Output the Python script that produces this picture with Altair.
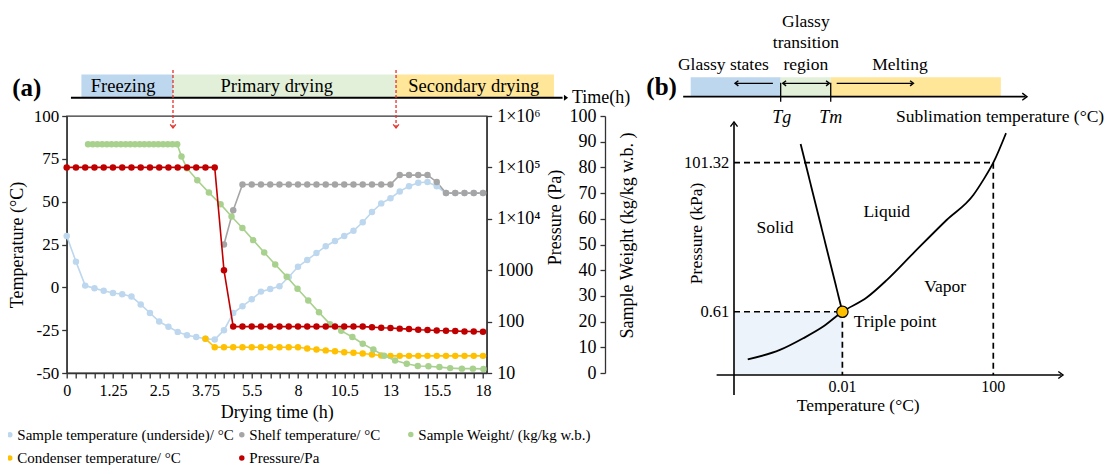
import altair as alt
import pandas as pd

FONT = "Liberation Serif"
INK = "#333333"

# ---------------- panel (a) data ----------------
x_index = list(range(46))
x_tick_labels = ["0", "1.25", "2.5", "3.75", "5.5", "8", "10.5", "13", "15.5", "18"]

sample_temp = [30, 15, 1, -0.6, -2, -3.3, -4, -5.4, -10, -15,
               -20, -23, -26, -28, -29, -30, -30.5, -25, -15, -11,
               -7, -2.5, -1, 0.6, 6, 12, 16, 20, 24, 27,
               30, 33, 38, 44, 49, 52, 56, 59, 61, 61.5,
               59, 55, 55, 55, 55, 55]

shelf_index = list(range(17, 46))
shelf_temp = [25, 45, 60, 60, 60, 60, 60, 60, 60, 60,
              60, 60, 60, 60, 60, 60, 60, 60, 60, 65.5,
              65.5, 65.5, 65.5, 61.5, 55, 55, 55, 55, 55]

condenser_index = list(range(15, 46))
condenser_temp = [-30, -35, -35, -35, -35, -35, -35, -35, -35, -35,
                  -35, -35.7, -36.3, -36.8, -37.3, -37.9, -38.2, -38.6, -39.2, -39.8,
                  -40, -40, -40, -40, -40, -40, -40, -40, -40, -40, -40]

pressure = [100000, 100000, 100000, 100000, 100000, 100000, 100000, 100000, 100000, 100000,
            100000, 100000, 100000, 100000, 100000, 100000, 100000, 1000, 80, 80,
            80, 80, 80, 80, 80, 80, 80, 80, 80, 80,
            80, 80, 80, 78, 76, 75, 73, 71.5, 69.5, 68.5,
            67, 66.5, 65.5, 64.5, 64, 63.5]

weight_x = [2.31, 2.82, 3.32, 3.83, 4.34, 4.84, 5.35, 5.86, 6.37, 6.87,
            7.38, 7.89, 8.39, 8.90, 9.41, 9.91, 10.42, 10.93, 11.43, 11.94,
            12.41, 12.99, 14.12, 15.37, 16.63, 17.82, 18.99, 20.16, 21.35, 22.54,
            23.78, 24.95, 26.11, 27.27, 28.46, 29.68, 30.88, 32.0, 33.15, 34.31,
            35.5, 36.76, 37.95, 39.10, 40.29, 41.45, 42.72, 43.91, 45.05]
weight = [89, 89, 89, 89, 89, 89, 89, 89, 89, 89,
          89, 89, 89, 89, 89, 89, 89, 89, 89, 89,
          84.2, 79.7, 75.0, 70.2, 65.7, 60.9, 56.4, 51.7, 46.9, 42.2,
          37.5, 32.8, 28.2, 23.6, 19.0, 16.4, 14.0, 11.4, 9.1, 6.7,
          4.9, 3.6, 2.7, 2.6, 2.3, 1.9, 1.7, 1.7, 1.6]

name_sample = "Sample temperature (underside)/ °C"
name_shelf = "Shelf temperature/ °C"
name_weight = "Sample Weight/ (kg/kg w.b.)"
name_cond = "Condenser temperature/ °C"
name_press = "Pressure/Pa"
color_sample, color_shelf, color_weight, color_cond, color_press = (
    "#bdd7ee", "#a5a5a5", "#a9d18e", "#ffc000", "#c00000")

# phases banner (a), in x-category units
phase_names_a = ["Freezing", "Primary drying", "Secondary drying"]
phase_start_a = [1.59, 11.49, 35.6]
phase_end_a = [11.49, 35.6, 52.67]
phase_label_x_a = [6.1, 22.7, 44.0]
phase_colors_a = ["#bdd7ee", "#e2f0d9", "#ffe699"]
phase_change_x = [11.49, 35.6]

# ---------------- panel (b) data (schematic units) ----------------
curve_x = [5.3, 17.7, 26.7, 34.4, 41.8, 51.2, 58.9, 69.1, 82.0, 92.3, 96.1, 100.0, 104.9]
curve_y = [7.4, 11.8, 17.3, 22.8, 29.8, 36.5, 44.7, 57.3, 73.0, 84.8, 91.8, 100.0, 113.9]
triple_x, triple_y = 41.8, 29.8
boil_x, boil_y = 100.0, 100.0
melt_top = (25.7, 108.8)

phase_start_b = [-16.7, 18.0, 37.3]
phase_end_b = [18.0, 37.3, 102.9]
phase_colors_b = ["#bdd7ee", "#e2f0d9", "#ffe699"]

# ---------------- helpers ----------------
X_A = alt.Scale(domain=[0, 45.4], nice=False, zero=False)
BX = alt.Scale(domain=[0, 100], range=[667.3, 926.6], nice=False, zero=False)
BY = alt.Scale(domain=[0, 100], range=[259, 46.7], nice=False, zero=False)
COLOR = alt.Scale(domain=[name_sample, name_shelf, name_cond, name_press],
                  range=[color_sample, color_shelf, color_cond, color_press])
FILL_W = alt.Scale(domain=[name_weight], range=[color_weight])

axis_common = dict(labelFont=FONT, titleFont=FONT, labelColor="black", titleColor="black",
                   titleFontWeight="normal", domainColor=INK, tickColor=INK,
                   domainWidth=1.3, tickWidth=1.3, grid=False, tickSize=5)

labels_js = "[" + ",".join("'" + s + "'" for s in x_tick_labels) + "]"
x_axis = alt.Axis(values=x_index, labelExpr="datum.value % 5 == 0 ? " + labels_js + "[datum.value / 5] : ''",
                  labelOverlap=False, labelFlush=False, labelFontSize=16, labelPadding=4,
                  title="Drying time (h)", titleFontSize=18, titleX=210, titleY=39,
                  titleBaseline="middle", titleAlign="center", **axis_common)
temp_axis = alt.Axis(values=[-50, -25, 0, 25, 50, 75, 100], labelExpr="'' + datum.value",
                     labelFontSize=17, labelPadding=3, title="Temperature (°C)", titleFontSize=18,
                     titleX=-49, titleY=128.5, titleAngle=270, titleAlign="center",
                     titleBaseline="middle", **axis_common)
press_axis = alt.Axis(orient="right", values=[10, 100, 1000, 10000, 100000, 1000000],
                      labelExpr="datum.value > 9e5 ? '1×10⁶' : datum.value > 9e4 ? '1×10⁵' : datum.value > 9e3 ? '1×10⁴' : '' + datum.value",
                      labelFontSize=18, labelPadding=5, title="Pressure (Pa)", titleFontSize=18,
                      titleX=69, titleY=101, titleAngle=270, titleAlign="center",
                      titleBaseline="middle", **axis_common)
weight_axis = alt.Axis(orient="left", offset=-538.3, values=[0, 10, 20, 30, 40, 50, 60, 70, 80, 90, 100],
                       labelFontSize=18, labelPadding=4, title="Sample Weight (kg/kg w.b. )",
                       titleFontSize=18, titleX=22, titleY=119, titleAngle=270, titleAlign="center",
                       titleBaseline="middle", **axis_common)

legend_common = dict(title=None, orient="none", legendY=311, direction="horizontal",
                     symbolType="circle", symbolSize=30,
                     labelFont=FONT, labelFontSize=15, labelColor="black", labelLimit=400,
                     labelOffset=0, columnPadding=0, rowPadding=7.5)
legend_main = alt.Legend(legendX=-64.4, columns=2, **legend_common)
legend_weight = alt.Legend(legendX=336.6, columns=1, **legend_common)

rows = []
for i, v in zip(x_index, sample_temp):
    rows.append({"idx": i, "value": v, "series": name_sample, "hex": color_sample})
for i, v in zip(condenser_index, condenser_temp):
    rows.append({"idx": i, "value": v, "series": name_cond, "hex": color_cond})
for i, v in zip(shelf_index, shelf_temp):
    rows.append({"idx": i, "value": v, "series": name_shelf, "hex": color_shelf})
df_temp = pd.DataFrame(rows)
df_press = pd.DataFrame({"idx": x_index, "value": pressure, "series": name_press, "hex": color_press})
df_weight = pd.DataFrame({"idx": weight_x, "value": weight, "series": name_weight, "hex": color_weight})

T_SCALE = alt.Scale(domain=[-50, 100], nice=False, zero=False)
P_SCALE = alt.Scale(type="log", domain=[10, 1000000], nice=False)
W_SCALE = alt.Scale(domain=[0, 100], nice=False, zero=False)


def series_layers(df, yscale, yaxis, weight_series=False):
    line = alt.Chart(df).mark_line(strokeWidth=1.6).encode(
        x=alt.X("idx:Q", scale=X_A, axis=x_axis if yaxis is temp_axis else None),
        y=alt.Y("value:Q", scale=yscale, axis=yaxis),
        stroke=alt.Stroke("hex:N", scale=None, legend=None),
        detail="series:N")
    if weight_series:
        col = alt.Fill("series:N", scale=FILL_W, legend=legend_weight)
    else:
        col = alt.Color("series:N", scale=COLOR, legend=legend_main)
    dots = alt.Chart(df).mark_circle(size=42, opacity=1).encode(
        x=alt.X("idx:Q", scale=X_A, axis=None),
        y=alt.Y("value:Q", scale=yscale, axis=None),
        color=col) if not weight_series else alt.Chart(df).mark_circle(size=42, opacity=1).encode(
        x=alt.X("idx:Q", scale=X_A, axis=None),
        y=alt.Y("value:Q", scale=yscale, axis=None),
        fill=col)
    return [line, dots]


layers = []
layers += series_layers(df_temp, T_SCALE, temp_axis)
layers += series_layers(df_weight, W_SCALE, weight_axis, weight_series=True)
layers += series_layers(df_press, P_SCALE, press_axis)

# ---- banner (a) ----
df_ban_a = pd.DataFrame({"x1": phase_start_a, "x2": phase_end_a, "fill": phase_colors_a,
                         "lx": phase_label_x_a, "name": phase_names_a})
layers.append(alt.Chart(df_ban_a).mark_rect().encode(
    x=alt.X("x1:Q", scale=X_A, axis=None), x2="x2:Q",
    y=alt.value(-41.5), y2=alt.value(-18.3),
    fill=alt.Fill("fill:N", scale=None, legend=None)))
layers.append(alt.Chart(df_ban_a).mark_text(font=FONT, fontSize=18.5, color="black", baseline="middle").encode(
    x=alt.X("lx:Q", scale=X_A, axis=None), y=alt.value(-30), text="name:N"))
layers.append(alt.Chart(pd.DataFrame({"x1": [0.46], "x2": [53.6]})).mark_rule(color="black", strokeWidth=2).encode(
    x=alt.X("x1:Q", scale=X_A, axis=None), x2="x2:Q", y=alt.value(-18.3)))
layers.append(alt.Chart(pd.DataFrame({"x": [54.2]})).mark_point(
    shape="M-1,-0.7L0,0L-1,0.7Z", filled=True, size=70, color="black", opacity=1).encode(
    x=alt.X("x:Q", scale=X_A, axis=None), y=alt.value(-18.3)))
layers.append(alt.Chart(pd.DataFrame({"x": [54.62], "t": ["Time(h)"]})).mark_text(
    font=FONT, fontSize=18, color="black", align="left", baseline="middle").encode(
    x=alt.X("x:Q", scale=X_A, axis=None), y=alt.value(-18), text="t:N"))
df_chg = pd.DataFrame({"x": phase_change_x})
layers.append(alt.Chart(df_chg).mark_rule(color="#e8302a", strokeWidth=1.3, strokeDash=[3, 2]).encode(
    x=alt.X("x:Q", scale=X_A, axis=None), y=alt.value(-46), y2=alt.value(11.5)))
layers.append(alt.Chart(df_chg).mark_point(
    shape="M-0.8,-1L0,0L0.8,-1", filled=False, size=50, color="#e8302a", strokeWidth=1.3, opacity=1).encode(
    x=alt.X("x:Q", scale=X_A, axis=None), y=alt.value(12)))
layers.append(alt.Chart(pd.DataFrame({"x": [-4.32], "t": ["(a)"]})).mark_text(
    font=FONT, fontSize=25, fontWeight="bold", color="black", baseline="middle").encode(
    x=alt.X("x:Q", scale=X_A, axis=None), y=alt.value(-28), text="t:N"))

# ---------------- panel (b) ----------------
def bx(f):
    return alt.X(f, scale=BX, axis=None)


def by(f):
    return alt.Y(f, scale=BY, axis=None)


layers.append(alt.Chart(pd.DataFrame({"x1": [0], "x2": [triple_x], "y1": [0], "y2": [triple_y]})).mark_rect(
    color="#edf3fa").encode(x=bx("x1:Q"), x2="x2:Q", y=by("y1:Q"), y2="y2:Q"))
layers.append(alt.Chart(pd.DataFrame({"x1": phase_start_b, "x2": phase_end_b, "fill": phase_colors_b})).mark_rect().encode(
    x=bx("x1:Q"), x2="x2:Q", y=by("y1:Q"), y2="y2:Q",
    fill=alt.Fill("fill:N", scale=None, legend=None)).transform_calculate(y1="131.1", y2="140.3"))

solid = pd.DataFrame({
    "x1": [-6.7, 0, -19.6, 18.0, 37.3, 0.8, 19.2, 39.6, melt_top[0]],
    "y1": [0, -9.4, 131.1, 128.7, 128.7, 137.4, 137.4, 137.4, melt_top[1]],
    "x2": [126.3, 0, 112.4, 18.0, 37.3, 15.0, 36.4, 68.8, triple_x],
    "y2": [0, 118.6, 131.1, 137.7, 137.7, 137.4, 137.4, 137.4, triple_y],
    "w": [1.6, 1.6, 1.8, 1.3, 1.3, 1.2, 1.2, 1.2, 1.8]})
layers.append(alt.Chart(solid).mark_rule(color="black").encode(
    x=bx("x1:Q"), y=by("y1:Q"), x2="x2:Q", y2="y2:Q",
    strokeWidth=alt.StrokeWidth("w:Q", scale=None, legend=None)))

dashed = pd.DataFrame({
    "x1": [0, triple_x, 0, boil_x], "y1": [triple_y, triple_y, boil_y, boil_y],
    "x2": [triple_x, triple_x, boil_x, boil_x], "y2": [triple_y, 0, boil_y, 0]})
layers.append(alt.Chart(dashed).mark_rule(color="black", strokeWidth=1.7, strokeDash=[6, 4]).encode(
    x=bx("x1:Q"), y=by("y1:Q"), x2="x2:Q", y2="y2:Q"))

layers.append(alt.Chart(pd.DataFrame({"x": curve_x, "y": curve_y})).mark_line(
    color="black", strokeWidth=1.8, interpolate="monotone").encode(x=bx("x:Q"), y=by("y:Q")))

right_head = "M-1,-0.75L0,0L-1,0.75"
left_head = "M1,-0.75L0,0L1,0.75"
up_head = "M-0.75,1L0,0L0.75,1"
heads = pd.DataFrame({
    "x": [126.9, 0, 113.0, 0.4, 18.8, 36.8, 69.2],
    "y": [0, 119.2, 131.1, 137.4, 137.4, 137.4, 137.4],
    "shape": [right_head, up_head, right_head, left_head, left_head, right_head, right_head],
    "s": [90, 90, 90, 45, 45, 45, 45]})
layers.append(alt.Chart(heads).mark_point(filled=False, color="black", strokeWidth=1.4, opacity=1).encode(
    x=bx("x:Q"), y=by("y:Q"),
    shape=alt.Shape("shape:N", scale=None, legend=None),
    size=alt.Size("s:Q", scale=None, legend=None)))

layers.append(alt.Chart(pd.DataFrame({"x": [triple_x], "y": [triple_y]})).mark_point(
    shape="circle", filled=True, size=130, fill="#ffc000", stroke="black", strokeWidth=1.2, opacity=1).encode(
    x=bx("x:Q"), y=by("y:Q")))

txt = pd.DataFrame({
    "x": [-4.1, 27.7, 27.7, 27.7, 64.0, 102.6, 15.8, 58.9, 81.4, 62.1, 47.9],
    "y": [146.0, 166.4, 156.2, 146.0, 146.0, 121.3, 69.1, 76.9, 41.6, 25.1, -14.6],
    "t": ["Glassy states", "Glassy", "transition", "region", "Melting", "Sublimation temperature (°C)",
          "Solid", "Liquid", "Vapor", "Triple point", "Temperature (°C)"]})
layers.append(alt.Chart(txt).mark_text(font=FONT, fontSize=17.5, color="black", baseline="middle").encode(
    x=bx("x:Q"), y=by("y:Q"), text="t:N"))

ticks_c = pd.DataFrame({"x": [triple_x, boil_x], "y": [-5.6, -5.6], "t": ["0.01", "100"]})
layers.append(alt.Chart(ticks_c).mark_text(font=FONT, fontSize=16, color="black", baseline="middle").encode(
    x=bx("x:Q"), y=by("y:Q"), text="t:N"))
ticks_r = pd.DataFrame({"x": [-1.8, -1.8], "y": [triple_y, boil_y], "t": ["0.61", "101.32"]})
layers.append(alt.Chart(ticks_r).mark_text(font=FONT, fontSize=16.5, color="black", baseline="middle", align="right").encode(
    x=bx("x:Q"), y=by("y:Q"), text="t:N"))
layers.append(alt.Chart(pd.DataFrame({"x": [18.4, 37.3], "y": [120.9, 120.9], "t": ["Tg", "Tm"]})).mark_text(
    font=FONT, fontSize=18, fontStyle="italic", color="black", baseline="middle").encode(
    x=bx("x:Q"), y=by("y:Q"), text="t:N"))
layers.append(alt.Chart(pd.DataFrame({"x": [-27.9], "y": [135.8], "t": ["(b)"]})).mark_text(
    font=FONT, fontSize=25, fontWeight="bold", color="black", baseline="middle").encode(
    x=bx("x:Q"), y=by("y:Q"), text="t:N"))
layers.append(alt.Chart(pd.DataFrame({"x": [-14.4], "y": [66.7], "t": ["Pressure (kPa)"]})).mark_text(
    font=FONT, fontSize=17.5, color="black", baseline="middle", angle=270).encode(
    x=bx("x:Q"), y=by("y:Q"), text="t:N"))

chart = alt.layer(*layers).resolve_scale(
    x="independent", y="independent"
).properties(
    width=420, height=257,
    padding={"left": 58.7, "top": 108, "right": 620.3, "bottom": 92},
    autosize=alt.AutoSizeParams(type="none"),
    background="white",
).configure_view(stroke=INK, strokeWidth=1.3)

chart.save("out.html", embed_options={"renderer": "svg", "actions": False})
